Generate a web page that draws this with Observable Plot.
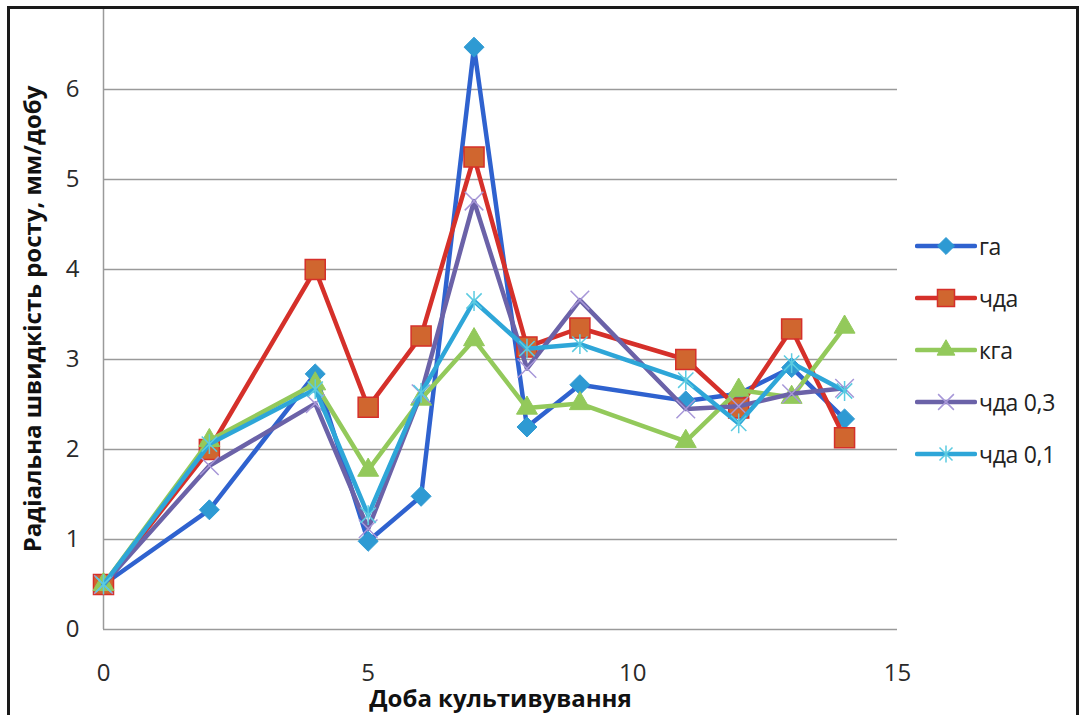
<!DOCTYPE html>
<html><head><meta charset="utf-8">
<script src="https://cdn.jsdelivr.net/npm/d3@7"></script>
<script src="https://cdn.jsdelivr.net/npm/@observablehq/plot@0.6"></script>
<style>
body{margin:0;background:#fff;}
#wrap{position:relative;width:1083px;height:715px;overflow:hidden;font-family:"Open Sans",sans-serif;background:#fff;}
#frame{position:absolute;left:7px;top:6px;width:1072px;height:760px;border:3px solid #1a1a1a;box-sizing:border-box;pointer-events:none;}
#chart{position:absolute;left:0;top:0;}
#legend{position:absolute;left:915px;top:220px;}
.row{display:flex;align-items:center;height:52px;}
.row span{font-size:23px;color:#222;margin-left:2px;white-space:nowrap;letter-spacing:-0.3px;}
g[aria-label="x-axis label"] text, g[aria-label="y-axis label"] text{font-weight:bold;fill:#111;}
</style></head>
<body>
<div id="wrap"><div id="chart"></div><div id="legend"></div><div id="frame"></div></div>
<script>
const days = [0, 2, 4, 5, 6, 7, 8, 9, 11, 12, 13, 14];
const seriesNames = ["га", "чда", "кга", "чда 0,3", "чда 0,1"];
const ga     = [0.5, 1.33, 2.84, 0.98, 1.48, 6.47, 2.25, 2.72, 2.54, 2.62, 2.91, 2.34];
const chda   = [0.5, 2.0, 4.0, 2.47, 3.26, 5.25, 3.14, 3.35, 3.0, 2.46, 3.34, 2.13];
const kga    = [0.5, 2.1, 2.73, 1.77, 2.56, 3.22, 2.46, 2.51, 2.09, 2.66, 2.58, 3.36];
const chda03 = [0.5, 1.82, 2.51, 1.12, 2.62, 4.76, 2.9, 3.66, 2.45, 2.48, 2.62, 2.68];
const chda01 = [0.5, 2.06, 2.67, 1.27, 2.63, 3.65, 3.12, 3.17, 2.77, 2.29, 2.96, 2.65];
const xTicks = [0, 5, 10, 15];
const yTicks = [0, 1, 2, 3, 4, 5, 6];
const xTitle = "Доба культивування";
const yTitle = "Радіальна швидкість росту, мм/добу";

const starSymbol = {draw(ctx, size) {
  const r = Math.sqrt(size / Math.PI);
  const a = r * 0.85;
  ctx.moveTo(-a, -a); ctx.lineTo(a, a);
  ctx.moveTo(-a, a); ctx.lineTo(a, -a);
  ctx.moveTo(0, -r * 1.1); ctx.lineTo(0, r * 1.1);
}};

const styles = [
  {line: "#2f62cf", fill: "#2e9ad3", stroke: "#2e9ad3", symbol: "diamond2", r: 9, sw: 1},
  {line: "#d5302a", fill: "#d0662f", stroke: "#d5302a", symbol: "square", r: 11.3, sw: 1.5},
  {line: "#93c95b", fill: "#93c95b", stroke: "#93c95b", symbol: "triangle2", r: 10, sw: 1},
  {line: "#6b62a8", fill: "none", stroke: "#a797d8", symbol: "times", r: 8.5, sw: 1.5},
  {line: "#2ea6d8", fill: "none", stroke: "#5ccbe1", symbol: starSymbol, r: 9, sw: 1.5}
];
const values = [ga, chda, kga, chda03, chda01];
const rows = seriesNames.map((name, i) => days.map((d, j) => ({series: name, day: d, value: values[i][j]})));

const marks = [
  Plot.gridY(yTicks, {stroke: "#9a9a9a", strokeOpacity: 1, strokeWidth: 1.5}),
  Plot.ruleX([0], {stroke: "#9a9a9a", strokeWidth: 1.5}),
  Plot.axisY(yTicks, {tickSize: 0, tickPadding: 24, fontSize: 24, fill: "#2a2a2a", tickFormat: d3.format("d"), label: yTitle, labelArrow: "none", labelAnchor: "center", labelOffset: 80}),
  Plot.axisX(xTicks, {tickSize: 0, tickPadding: 34, fontSize: 24, fill: "#2a2a2a", tickFormat: d3.format("d"), label: xTitle, labelArrow: "none", labelAnchor: "center", labelOffset: 77})
];
rows.forEach((data, i) => {
  const s = styles[i];
  marks.push(Plot.line(data, {x: "day", y: "value", stroke: s.line, strokeWidth: 4.5, strokeLinejoin: "round", strokeLinecap: "round"}));
  marks.push(Plot.dot(data, {x: "day", y: "value", symbol: () => s.symbol, r: s.r, fill: s.fill, stroke: s.stroke, strokeWidth: s.sw}));
});

const chart = Plot.plot({
  width: 1083, height: 715,
  marginLeft: 103, marginRight: 186, marginTop: 8, marginBottom: 86,
  style: {fontFamily: "'Open Sans', sans-serif", fontSize: "24px", background: "transparent"},
  x: {domain: [0, 15], type: "linear"},
  y: {domain: [0, 6.9], type: "linear"},
  symbol: {type: "identity"},
  marks
});
document.getElementById("chart").appendChild(chart);

// legend
const leg = d3.select("#legend");
seriesNames.forEach((name, i) => {
  const s = styles[i];
  const row = leg.append("div").attr("class", "row");
  const svg = row.append("svg").attr("width", 62).attr("height", 30);
  svg.append("line").attr("x1", 2).attr("x2", 60).attr("y1", 15).attr("y2", 15)
    .attr("stroke", s.line).attr("stroke-width", 4.5).attr("stroke-linecap", "round");
  const symType = typeof s.symbol === "string" ? ({diamond2: d3.symbolDiamond2, square: d3.symbolSquare, triangle2: d3.symbolTriangle2, times: d3.symbolTimes})[s.symbol] : s.symbol;
  const rr = s.r * 0.85;
  svg.append("path").attr("transform", "translate(31,15)")
    .attr("d", d3.symbol(symType, rr * rr * Math.PI)())
    .attr("fill", s.fill).attr("stroke", s.stroke).attr("stroke-width", s.sw);
  row.append("span").text(name);
});
</script>
</body></html>
